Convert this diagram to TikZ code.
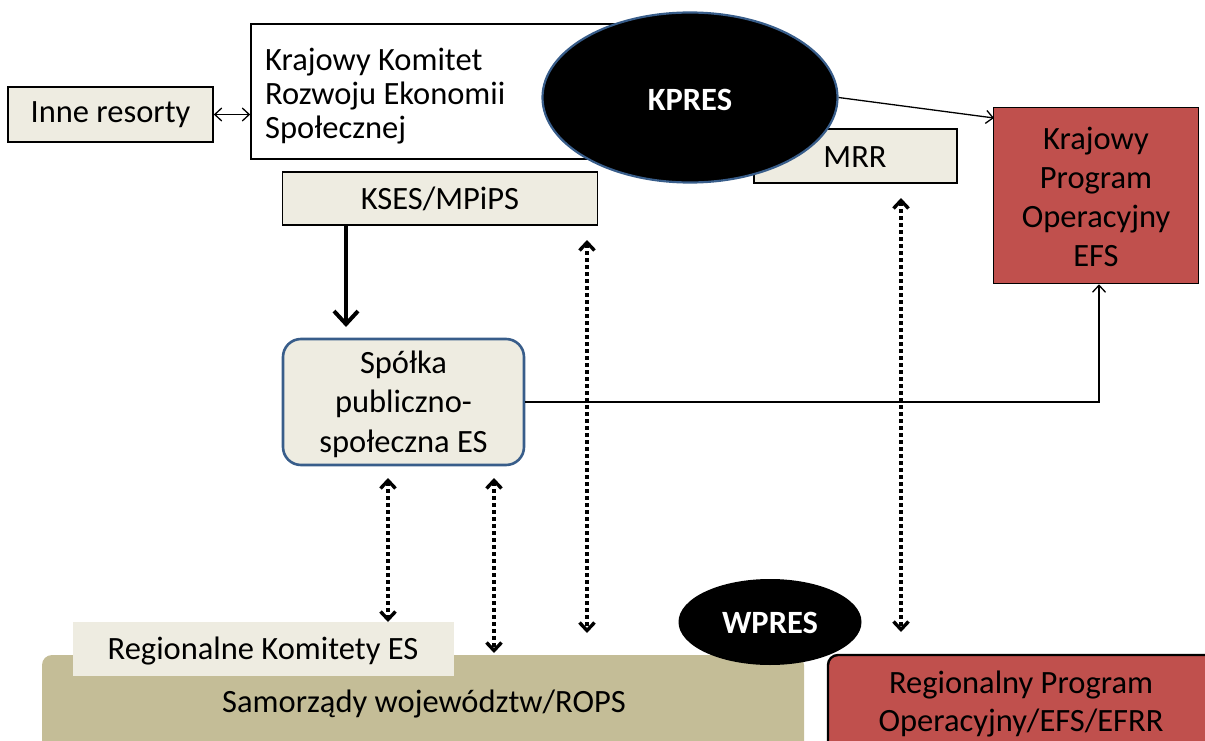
\documentclass[tikz,border=0pt]{standalone}
\usepackage{fontspec}
\setmainfont{Carlito}
\usetikzlibrary{arrows.meta,shapes.geometric}
\definecolor{tanlight}{HTML}{EEECE1}
\definecolor{tandark}{HTML}{C4BD97}
\definecolor{redfill}{HTML}{C0504D}
\definecolor{blueedge}{HTML}{385D8A}
\begin{document}
\begin{tikzpicture}[x=1pt,y=-1pt,
  font=\fontsize{32.5}{33}\selectfont,
  lbox/.style={draw=black, fill=tanlight, line width=1.6pt, inner sep=0pt},
  redbox/.style={draw=black, fill=redfill, line width=1.6pt, inner sep=0pt, align=center},
  blackell/.style={ellipse, fill=black, inner sep=0pt, text=white, font=\fontsize{32.5}{34}\selectfont\bfseries},
  thinarr/.style={line width=1.3pt, -{Straight Barb[length=7pt,width=13pt,line width=1.3pt]}},
  thinboth/.style={line width=1.3pt, {Straight Barb[length=7pt,width=13pt,line width=1.3pt]}-{Straight Barb[length=7pt,width=13pt,line width=1.3pt]}},
  thickarr/.style={line width=4pt, -{Straight Barb[length=13pt,width=24pt,line width=4pt]}},
  dotarr/.style={line width=4pt, dash pattern=on 4pt off 3pt,
    {Straight Barb[length=8pt,width=15pt,line width=3.4pt]}-{Straight Barb[length=8pt,width=15pt,line width=3.4pt]}}
]
\useasboundingbox (0,0) rectangle (1205,741);

% top row
\node[lbox, minimum width=205, minimum height=55] (inne) at (110.5,114.5) {Inne resorty};
\node[draw=black, fill=white, line width=1.6pt, minimum width=389, minimum height=135, inner sep=0pt] (kkres) at (445.5,91.5) {};
\node[anchor=west, align=flush left, inner sep=0pt, font=\fontsize{32.5}{34}\selectfont] (kkrestext) at (265,96)
  {Krajowy Komitet\\Rozwoju Ekonomii\\Społecznej};
\node[lbox, minimum width=315, minimum height=53] (kses) at (440,198.5) {KSES/MPiPS};
\node[lbox, minimum width=203, minimum height=54] (mrr) at (855.5,156) {};
\node (mrrtext) at (855,157) {MRR};
\node[blackell, draw=blueedge, line width=2.2pt, minimum width=295, minimum height=170] (kpres) at (690,97.5) {};
\node[text=white, font=\fontsize{32.5}{34}\selectfont\bfseries] (kprestext) at (690,100) {KPRES};
\node[redbox, minimum width=205, minimum height=176] (kpo) at (1096,195.5) {};
\node[align=center, font=\fontsize{32.5}{39}\selectfont] (kpotext) at (1096,197)
  {Krajowy\\Program\\Operacyjny\\EFS};

% middle
\node[draw=blueedge, fill=tanlight, line width=2.6pt, rounded corners=18pt, minimum width=241, minimum height=126,
      inner sep=0pt] (spolka) at (403.5,402) {};
\node[align=center, font=\fontsize{32.5}{39.5}\selectfont] (spolkatext) at (403.5,404)
  {Spółka\\publiczno-\\społeczna ES};

% bottom
\node[fill=tandark, rounded corners=10pt, minimum width=762, minimum height=110, inner sep=0pt] (samo) at (423,710) {};
\node (samotext) at (424,704) {Samorządy województw/ROPS};
\node[fill=tanlight, minimum width=381, minimum height=54, inner sep=0pt] (rkes) at (263.5,649) {};
\node (rkestext) at (263,651) {Regionalne Komitety ES};
\node[redbox, line width=2.4pt, rounded corners=10pt, minimum width=390, minimum height=110] (rpo) at (1023,710) {};
\node[align=center, font=\fontsize{32.5}{38}\selectfont] (rpotext) at (1021,704) {Regionalny Program\\Operacyjny/EFS/EFRR};
\node[blackell, minimum width=183, minimum height=86] (wpres) at (770,622) {};
\node[text=white, font=\fontsize{32.5}{34}\selectfont\bfseries] (wprestext) at (770,623) {WPRES};

% connectors
\draw[thinboth] (inne.east) -- (kkres.west |- inne.east);
\coordinate (kpoin) at (994,118);
\draw[thinarr] (kpres.east) -- (kpoin);
\coordinate (t1) at (346,327);
\draw[thickarr] (kses.south -| t1) -- (t1);
\coordinate (c1) at (1099,402);
\draw[thinarr] (spolka.east) -- (c1) -- (kpo.south -| c1);

\coordinate (d1a) at (388,478);
\coordinate (d1b) at (388,622);
\coordinate (d2a) at (494,478);
\coordinate (d2b) at (494,653);
\coordinate (d3a) at (587,240);
\coordinate (d3b) at (587,633);
\coordinate (d4a) at (901,198);
\coordinate (d4b) at (901,632);
\draw[dotarr] (d1a) -- (d1b);
\draw[dotarr] (d2a) -- (d2b);
\draw[dotarr] (d3a) -- (d3b);
\draw[dotarr] (d4a) -- (d4b);
\end{tikzpicture}
\end{document}
